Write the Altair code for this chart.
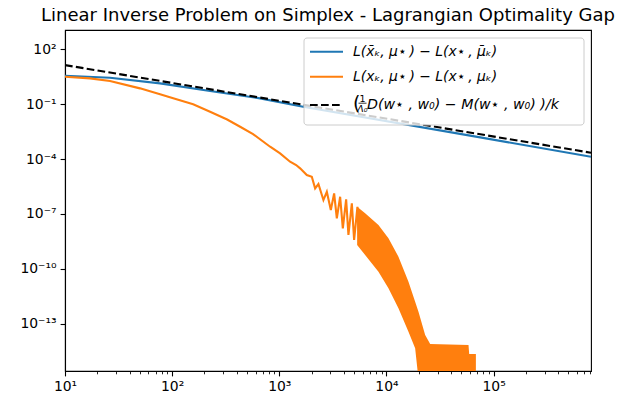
import math
import altair as alt
import pandas as pd

# ---------------- data ----------------
blue_x = [10, 26.3, 77.1, 226, 662, 1668, 75000, 811000]
blue_y = [3.49, 2.72, 1.35, 0.512, 0.204, 0.0711, 1.52e-3, 1.33e-4]

orange_x = [10, 17.1, 26.3, 50.1, 77.1, 106, 157, 226, 326, 431, 569, 821, 1017,
            1261, 1436, 1564, 1806, 2011, 2159, 2318, 2581, 2777, 3026, 3249,
            3443, 3696, 3916, 4205, 4418, 4753, 4993, 5360, 5597]
orange_y = [3.08, 2.52, 1.80, 0.718, 0.338, 0.192, 0.0962, 0.0379, 0.0143,
            5.77e-3, 2.31e-3, 4.68e-4, 2.04e-4, 7.11e-5, 4.70e-5, 3.10e-5,
            1.34e-5, 1.08e-5, 2.51e-6, 4.32e-6, 5.78e-7, 1.64e-6, 1.65e-7,
            1.34e-6, 5.81e-8, 8.75e-7, 1.65e-8, 6.31e-7, 7.13e-9, 3.82e-7,
            3.80e-9, 2.49e-7, 2.03e-9]

# dense oscillation band of the orange series (upper / lower envelope)
band_x = [5328, 6325, 8420, 10440, 12940, 16050, 18530, 19900, 22980, 25590,
          58310, 59190, 68340]
band_hi = [2.49e-7, 1.09e-7, 2.50e-8, 4.71e-9, 4.67e-10, 2.02e-11, 1.64e-12,
           4.66e-13, 2.49e-14, 8.05e-15, 7.11e-15, 2.30e-15, 2.30e-15]
band_lo = [2.03e-9, 5.78e-10, 7.10e-11, 8.81e-12, 7.14e-13, 3.78e-14, 4.70e-15,
           1e-16, 1e-16, 1e-16, 1e-16, 1e-16, 1e-16]

bound_x = [10, 811000]
bound_y = [13.4, 2.20e-4]

x_domain = [10, 8.11e5]
y_domain = [2.7e-16, 1.1e3]
x_major = [1e1, 1e2, 1e3, 1e4, 1e5]
x_minor = [m * 10 ** e for e in range(1, 6) for m in range(2, 10) if m * 10 ** e <= 8.11e5]
y_major = [1e2, 1e-1, 1e-4, 1e-7, 1e-10, 1e-13]

title_text = "Linear Inverse Problem on Simplex - Lagrangian Optimality Gap"
legend_labels = [
    "L(x\u0304\u2096, \u03bc\u22c6\u2009) \u2212 L(x\u22c6\u2009, \u03bc\u0304\u2096)",
    "L(x\u2096, \u03bc\u22c6\u2009) \u2212 L(x\u22c6\u2009, \u03bc\u2096)",
    "D(w\u22c6 , w\u2080) \u2212 M(w\u22c6 , w\u2080) )/k",
]
frac_num = "1"
frac_den = "\u039b\u2080"

BLUE = "#1f77b4"
ORANGE = "#ff7f0e"
FONT = "DejaVu Sans"

SUP = {"-": "\u207b", "0": "\u2070", "1": "\u00b9", "2": "\u00b2", "3": "\u00b3",
       "4": "\u2074", "5": "\u2075", "6": "\u2076", "7": "\u2077", "8": "\u2078",
       "9": "\u2079"}


def sup(n):
    return "".join(SUP[c] for c in str(n))


def label_expr(ticks):
    parts = []
    for t in ticks:
        e = int(round(math.log10(t)))
        parts.append(f"round(log(datum.value)/LN10) == {e} ? '10{sup(e)}'")
    return " : ".join(parts) + " : ''"


is_major = "abs(log(datum.value)/LN10 - round(log(datum.value)/LN10)) < 0.000001"

xs = alt.Scale(type="log", domain=x_domain, nice=False)
ys = alt.Scale(type="log", domain=y_domain, nice=False)

x_axis = alt.Axis(
    values=x_major + x_minor,
    labelExpr=f"({is_major}) ? ({label_expr(x_major)}) : ''",
    tickSize={"condition": {"test": is_major, "value": 4.9}, "value": 2.8},
    tickWidth={"condition": {"test": is_major, "value": 1.1}, "value": 0.85},
    labelFlush=False, labelOverlap=False, grid=False, title=None,
    labelPadding=4.0,
)
y_axis = alt.Axis(values=y_major, labelExpr=label_expr(y_major), grid=False,
                  title=None, tickSize=4.9, tickWidth=1.1, labelPadding=4.0,
                  labelFlush=False, labelOverlap=False)

X = alt.X("x:Q", scale=xs, axis=x_axis)

df_blue = pd.DataFrame({"x": blue_x, "y": blue_y})
df_orange = pd.DataFrame({"x": orange_x, "y": orange_y})
df_band = pd.DataFrame({"x": band_x, "hi": band_hi, "lo": band_lo})
df_bound = pd.DataFrame({"x": bound_x, "y": bound_y})

blue = alt.Chart(df_blue).mark_line(color=BLUE, strokeWidth=2.1, clip=True).encode(
    x=X, y=alt.Y("y:Q", scale=ys, axis=y_axis),
)
orange = alt.Chart(df_orange).mark_line(color=ORANGE, strokeWidth=2.1, clip=True).encode(
    x=X, y=alt.Y("y:Q", scale=ys, axis=y_axis),
)
band = alt.Chart(df_band).mark_area(color=ORANGE, opacity=1, clip=True).encode(
    x=X, y=alt.Y("hi:Q", scale=ys, axis=y_axis), y2="lo:Q",
)
bound = alt.Chart(df_bound).mark_line(color="black", strokeWidth=2.1,
                                      strokeDash=[7.7, 3.3], clip=True).encode(
    x=X, y=alt.Y("y:Q", scale=ys, axis=y_axis),
)

# ---------------- title (text mark above the plot area) ----------------
title = alt.Chart(pd.DataFrame({"t": [title_text]})).mark_text(
    align="center", baseline="alphabetic", font=FONT, fontSize=18,
    color="black").encode(x=alt.value(263), y=alt.value(-8.6), text="t:N")

# ---------------- hand-built legend ----------------
one = pd.DataFrame({"k": [0]})
frame = alt.Chart(one).mark_rect(fill="white", fillOpacity=0.8, stroke="#cccccc",
                                 strokeWidth=1, cornerRadius=3).encode(
    x=alt.value(239), x2=alt.value(519), y=alt.value(8), y2=alt.value(95))

legend_layers = [frame]
row_y = [21.7, 46.7, 75]
text_y = [22, 47, 75]
row_color = [BLUE, ORANGE, "black"]
for i in range(3):
    kw = {"strokeDash": [7.7, 3.3]} if i == 2 else {}
    legend_layers.append(
        alt.Chart(one).mark_rule(color=row_color[i], strokeWidth=2.1, **kw).encode(
            x=alt.value(245), x2=alt.value(278), y=alt.value(row_y[i])))

for i in range(2):
    legend_layers.append(
        alt.Chart(pd.DataFrame({"t": [legend_labels[i]]})).mark_text(
            align="left", baseline="middle", font=FONT, fontSize=13.9,
            fontStyle="italic", color="black").encode(
            x=alt.value(288), y=alt.value(text_y[i]), text="t:N"))

legend_layers.append(
    alt.Chart(pd.DataFrame({"t": ["("]})).mark_text(
        align="left", baseline="middle", font=FONT, fontSize=19, color="black").encode(
        x=alt.value(288), y=alt.value(73.5), text="t:N"))
legend_layers.append(
    alt.Chart(pd.DataFrame({"t": [frac_num]})).mark_text(
        align="center", baseline="middle", font=FONT, fontSize=9.5, color="black").encode(
        x=alt.value(297.5), y=alt.value(69.3), text="t:N"))
legend_layers.append(
    alt.Chart(pd.DataFrame({"t": [frac_den]})).mark_text(
        align="center", baseline="middle", font=FONT, fontSize=9.5,
        fontStyle="italic", color="black").encode(
        x=alt.value(297.5), y=alt.value(78.8), text="t:N"))
legend_layers.append(
    alt.Chart(one).mark_rule(color="black", strokeWidth=0.8).encode(
        x=alt.value(293.5), x2=alt.value(301.5), y=alt.value(73.2)))
legend_layers.append(
    alt.Chart(pd.DataFrame({"t": [legend_labels[2]]})).mark_text(
        align="left", baseline="middle", font=FONT, fontSize=14.2,
        fontStyle="italic", color="black").encode(
        x=alt.value(302), y=alt.value(text_y[2]), text="t:N"))

chart = alt.layer(blue, orange, band, bound, title, *legend_layers).properties(
    width=526, height=341,
    autosize=alt.AutoSizeParams(type="none"),
    padding={"left": 57, "top": 22, "right": 28, "bottom": 22},
).configure(font=FONT).configure_view(stroke="black", strokeWidth=1.1).configure_axis(
    labelFont=FONT, labelFontSize=13.9, labelColor="black", tickColor="black",
    domainColor="black", domainWidth=1.1,
)

chart.save("out.html", embed_options={"renderer": "svg", "actions": False})
